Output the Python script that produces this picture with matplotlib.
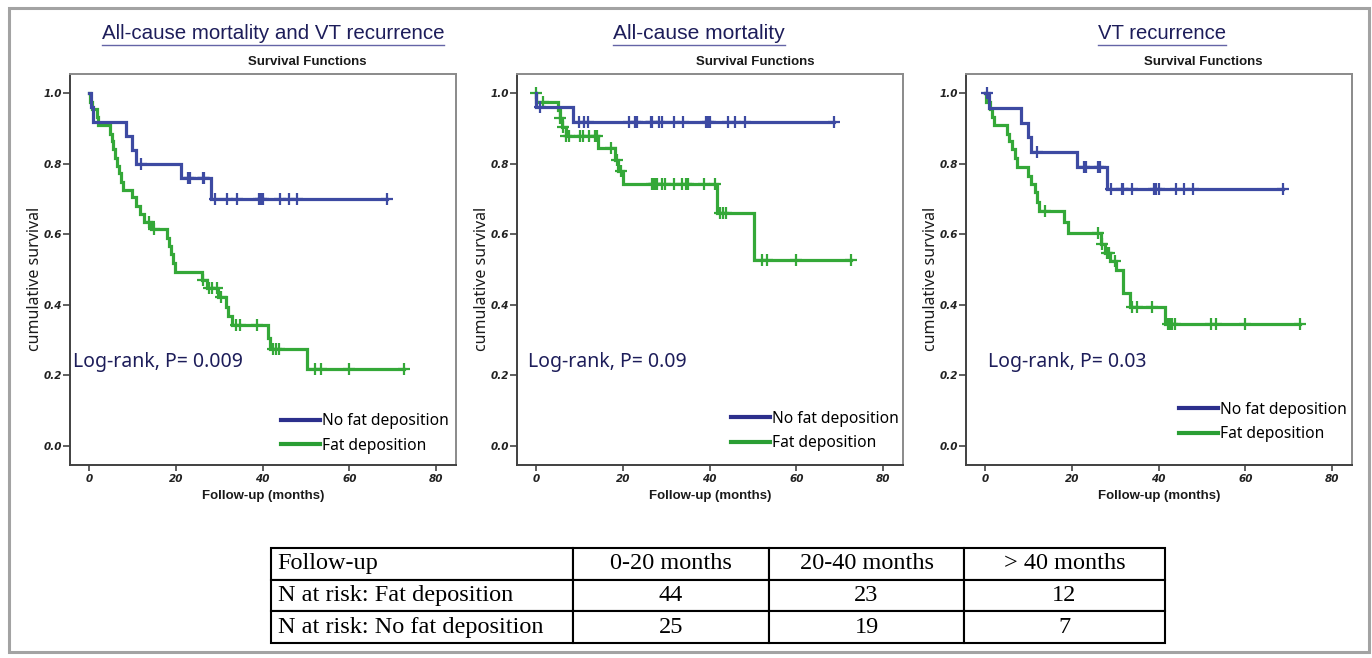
import numpy as np
import matplotlib
matplotlib.use("Agg")
import matplotlib.pyplot as plt
from matplotlib.lines import Line2D
from matplotlib.patches import Rectangle

# ---------------- data ----------------
panel_titles = ["All-cause mortality and VT recurrence", "All-cause mortality", "VT recurrence"]
p_texts = ["Log-rank, P= 0.009", "Log-rank, P= 0.09", "Log-rank, P= 0.03"]
group_labels = ["No fat deposition", "Fat deposition"]

# Panel 1: all-cause mortality and VT recurrence
p1_nofat_t = [0, 0.5, 0.9, 8.4, 9.9, 10.8, 21.3, 28.1]
p1_nofat_s = [1.0, 0.96, 0.92, 0.88, 0.84, 0.80, 0.76, 0.70]
p1_nofat_c = [12.0, 22.8, 23.3, 26.2, 26.5, 29.0, 31.8, 34.0, 39.1, 39.6, 40.1, 44.1, 46.0, 47.9, 68.8]
p1_fat_t = [0, 0.3, 0.6, 1.8, 2.0, 4.8, 5.2, 5.6, 6.0, 6.5, 7.0, 7.4, 7.8, 9.8, 10.8, 11.8, 12.6,
            14.2, 18.0, 18.5, 19.0, 19.4, 19.8, 26.0, 27.2, 29.8, 31.6, 32.0, 33.0, 41.2, 41.6, 50.2]
p1_fat_s = [1.0, 0.977, 0.955, 0.932, 0.909, 0.886, 0.864, 0.841, 0.818, 0.795, 0.773, 0.750, 0.727,
            0.705, 0.682, 0.659, 0.636, 0.614, 0.591, 0.568, 0.545, 0.520, 0.494, 0.471, 0.448,
            0.422, 0.395, 0.368, 0.342, 0.305, 0.274, 0.219]
p1_fat_c = [13.9, 14.9, 26.3, 27.7, 28.4, 29.4, 30.4, 33.9, 34.7, 38.8, 42.4, 43.0, 43.8,
            52.2, 53.5, 60.0, 72.6]

# Panel 2: all-cause mortality
p2_nofat_t = [0, 0.01, 8.4]
p2_nofat_s = [1.0, 0.96, 0.92]
p2_nofat_c = [1.0, 10.0, 11.0, 12.0, 21.4, 22.8, 23.2, 26.4, 26.8, 28.3, 29.0, 31.8, 33.8,
              39.1, 39.6, 40.2, 44.2, 45.9, 48.1, 68.8]
p2_fat_t = [0, 0.01, 5.0, 5.4, 6.0, 6.8, 14.2, 18.2, 19.0, 20.0, 41.7, 50.2]
p2_fat_s = [1.0, 0.977, 0.953, 0.929, 0.904, 0.879, 0.845, 0.812, 0.781, 0.743, 0.662, 0.527]
p2_fat_c = [0.0, 1.7, 5.5, 6.3, 6.9, 7.5, 10.2, 10.8, 12.3, 13.5, 14.0, 17.3, 18.6, 19.6,
            26.8, 27.1, 27.5, 27.8, 29.0, 29.8, 31.8, 33.7, 34.5, 35.0, 38.8, 41.2,
            42.5, 43.1, 43.8, 52.2, 53.3, 60.0, 72.7]

# Panel 3: VT recurrence
p3_nofat_t = [0, 1.0, 8.3, 10.0, 10.7, 21.1, 28.2]
p3_nofat_s = [1.0, 0.958, 0.917, 0.875, 0.833, 0.790, 0.730]
p3_nofat_c = [0.5, 12.0, 22.8, 23.2, 26.1, 26.5, 29.0, 31.6, 31.9, 33.9, 39.0, 39.5, 40.1,
              44.1, 45.9, 48.0, 68.7]
p3_fat_t = [0, 0.3, 1.2, 1.6, 2.0, 5.1, 5.6, 6.1, 6.9, 7.3, 10.0, 10.7, 11.5, 12.0, 12.4,
            18.3, 19.2, 26.7, 27.6, 28.8, 30.2, 31.8, 33.4, 41.4]
p3_fat_s = [1.0, 0.977, 0.955, 0.932, 0.909, 0.886, 0.864, 0.841, 0.818, 0.790, 0.765, 0.742,
            0.720, 0.693, 0.667, 0.636, 0.603, 0.573, 0.546, 0.525, 0.499, 0.433, 0.395, 0.345]
p3_fat_c = [13.8, 26.1, 26.9, 28.0, 28.6, 30.0, 33.8, 35.0, 38.6, 42.2, 42.7, 43.2, 43.7,
            52.0, 53.2, 59.9, 72.5]

table_header = ["Follow-up", "0-20 months", "20-40 months", "> 40 months"]
row_labels = ["N at risk: Fat deposition", "N at risk: No fat deposition"]
risk_fat = [44, 23, 12]
risk_nofat = [25, 19, 7]

panels = [
    (p1_nofat_t, p1_nofat_s, p1_nofat_c, p1_fat_t, p1_fat_s, p1_fat_c),
    (p2_nofat_t, p2_nofat_s, p2_nofat_c, p2_fat_t, p2_fat_s, p2_fat_c),
    (p3_nofat_t, p3_nofat_s, p3_nofat_c, p3_fat_t, p3_fat_s, p3_fat_c),
]

# ---------------- style ----------------
W, H = 1372, 658
fig = plt.figure(figsize=(W / 100, H / 100), dpi=100)
fig.patch.set_facecolor("white")
rend = fig.canvas.get_renderer()

BLUE = "#3d4aa2"
GREEN = "#34a838"
LEG_BLUE = "#2c2f8c"
LEG_GREEN = "#2a9e34"
NAVY = "#1d1d5a"
SANS = ["Noto Sans", "DejaVu Sans"]
ARIAL = ["Liberation Sans", "DejaVu Sans"]

ax_lefts = [70, 517, 966]
ax_w, ax_top, ax_bot = 386, 74, 465
title_cx = [273, 699, 1162]
title_w = [345, 173, 129]
sf_ax_x = [0.614, 0.617, 0.614]
ptxt_ax_x = [0.008, 0.028, 0.057]
leg_anchor = [(0.547, 0.081), (0.554, 0.087), (0.552, 0.110)]


def fit_width(txt, target_px):
    bb = txt.get_window_extent(rend)
    txt.set_fontsize(txt.get_fontsize() * target_px / bb.width)


def km_points(t, s, c):
    t = np.asarray(t, float)
    s = np.asarray(s, float)
    c = np.asarray(c, float)
    end = max(t.max(), c.max())
    tt = np.append(t, end)
    ss = np.append(s, s[-1])
    idx = np.searchsorted(t, c, side="right") - 1
    return tt, ss, c, s[idx]


titles = []
for i, (nt, ns, nc, ft, fs, fc) in enumerate(panels):
    l = ax_lefts[i]
    ax = fig.add_axes([l / W, 1 - ax_bot / H, ax_w / W, (ax_bot - ax_top) / H])
    for (t, s, c, col) in [(ft, fs, fc, GREEN), (nt, ns, nc, BLUE)]:
        tt, ss, cx, cy = km_points(t, s, c)
        ax.step(tt, ss, where="post", color=col, lw=2.3, solid_joinstyle="miter")
        ax.plot(cx, cy, ls="none", marker="+", ms=8, mew=1.6, color=col)
    ax.set_xlim(-4.4, 84.6)
    ax.set_ylim(-0.054, 1.055)
    ax.set_xticks([0, 20, 40, 60, 80])
    ax.set_yticks([0.0, 0.2, 0.4, 0.6, 0.8, 1.0])
    ax.set_yticklabels(["0.0", "0.2", "0.4", "0.6", "0.8", "1.0"])
    ax.tick_params(axis="x", direction="out", length=4, width=1.2, color="#444444", pad=2.5)
    ax.tick_params(axis="y", direction="out", length=5, width=1.2, color="#444444", pad=1)
    for lbl in ax.get_xticklabels() + ax.get_yticklabels():
        lbl.set_fontsize(7.5)
        lbl.set_fontweight("bold")
        lbl.set_fontstyle("italic")
        lbl.set_color("#222222")
    for side in ["left", "bottom"]:
        ax.spines[side].set_color("#404040")
        ax.spines[side].set_linewidth(1.4)
    for side in ["top", "right"]:
        ax.spines[side].set_color("#8a8a8a")
        ax.spines[side].set_linewidth(1.4)

    ax.text(-0.091, 0.476, "cumulative survival", transform=ax.transAxes, rotation=90,
            ha="center", va="center", fontsize=11.5, family=SANS, color="#1a1a1a")
    ax.text(0.5, -0.079, "Follow-up (months)", transform=ax.transAxes, ha="center",
            va="center", fontsize=9.5, fontweight="bold", family=ARIAL, color="#1a1a1a")
    ax.text(sf_ax_x[i], 1.031, "Survival Functions", transform=ax.transAxes, ha="center",
            va="center", fontsize=9.5, fontweight="bold", family=ARIAL, color="#1a1a1a")
    ax.text(ptxt_ax_x[i], 0.251, p_texts[i], transform=ax.transAxes, ha="left",
            va="baseline", fontsize=14, family=SANS, color=NAVY)

    handles = [Line2D([], [], color=LEG_BLUE, lw=3.0), Line2D([], [], color=LEG_GREEN, lw=3.0)]
    ax.legend(handles, group_labels, loc="center left", bbox_to_anchor=leg_anchor[i],
              bbox_transform=ax.transAxes, frameon=False, prop={"family": SANS, "size": 11.2},
              handlelength=2.5, handletextpad=0.15, labelspacing=0.55, borderpad=0,
              borderaxespad=0)

    t = fig.text(title_cx[i] / W, 1 - 33.5 / H, panel_titles[i], ha="center", va="center",
                 fontsize=14, family=ARIAL, color=NAVY)
    fit_width(t, title_w[i])
    titles.append(t)

# ---------------- table ----------------
tl, tr, tt_, tb = 271, 1165, 548, 643
tax = fig.add_axes([tl / W, 1 - tb / H, (tr - tl) / W, (tb - tt_) / H])
tax.axis("off")
cell_text = [table_header,
             [row_labels[0]] + [str(v) for v in risk_fat],
             [row_labels[1]] + [str(v) for v in risk_nofat]]
col_px = [302, 196, 195, 201]
tbl = tax.table(cellText=cell_text, cellLoc="center", bbox=[0, 0, 1, 1],
                colWidths=[c / sum(col_px) for c in col_px])
tbl.auto_set_font_size(False)
tbl.set_fontsize(17.5)
for (r, c), cell in tbl.get_celld().items():
    cell.set_edgecolor("black")
    cell.set_linewidth(1.5)
    cell.get_text().set_fontfamily(["Liberation Serif", "DejaVu Serif"])
    cell.get_text().set_color("black")
    if c == 0:
        cell.PAD = 0.022
        cell._loc = "left"
        cell.get_text().set_ha("left")

# ---------------- outer frame ----------------
fig.add_artist(Rectangle((9 / W, 1 - 652 / H), (1369 - 9) / W, (652 - 8) / H,
                         transform=fig.transFigure, fill=False, edgecolor="#a3a3a3", lw=2.2))

# underline titles
fig.canvas.draw()
for t in titles:
    bb = t.get_window_extent(rend)
    y = 1 - 45 / H
    fig.add_artist(Line2D([bb.x0 / W, bb.x1 / W], [y, y], transform=fig.transFigure,
                          color="#6464a6", lw=1.0))

fig.savefig("out.png", dpi=100, facecolor="white")
